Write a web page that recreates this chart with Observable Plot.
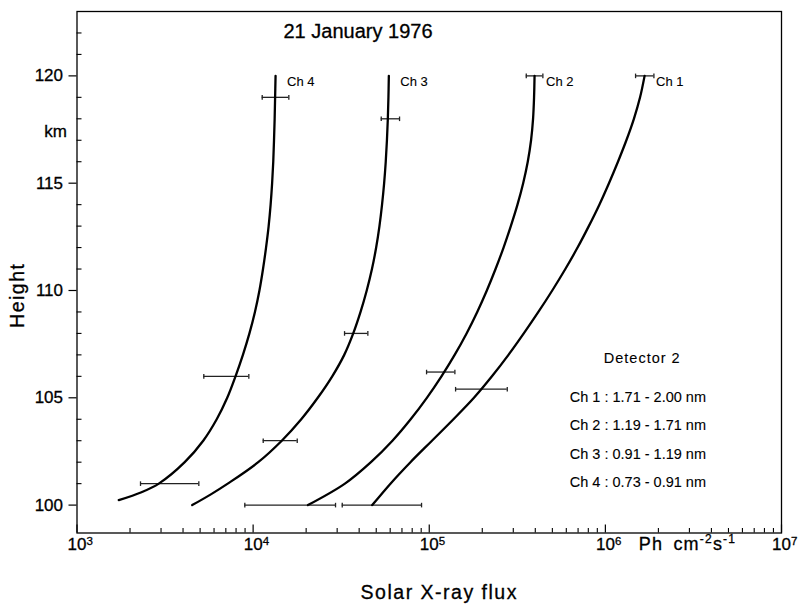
<!DOCTYPE html>
<html>
<head>
<meta charset="utf-8">
<script src="https://cdn.jsdelivr.net/npm/d3@7"></script>
<script src="https://cdn.jsdelivr.net/npm/@observablehq/plot@0.6"></script>
<style>
  html, body { margin: 0; padding: 0; background: #fff; }
  svg text { stroke: #000; stroke-width: 0.3px; }
  svg text.light { stroke-width: 0.1px; }
</style>
</head>
<body>
<div id="chart"></div>
<script>
// ---- Data ----
const title = "21 January 1976";
const channels = ["Ch 1", "Ch 2", "Ch 3", "Ch 4"];

// Height (km) and solar X-ray flux (Ph cm^-2 s^-1) along each curve
const ch1Height = [120,119,118,117,116,115,114,113,112,111,110,109,108,107,106,105,104,103,102,101,100];
const ch1Flux   = [1670000,1574000,1452000,1316000,1179000,1048000,924300,805100,695200,592600,499300,416500,344100,281700,227000,179400,137200,103600,78210,60220,47460];

const ch2Height = [120,119,118,117,116,115,114,113,112,111,110,109,108,107,106,105,104,103,102,101,100];
const ch2Flux   = [396200,393600,388500,378500,362500,341400,316900,290500,264200,237900,212300,187300,162900,139400,117300,96920,78420,61800,46660,33210,20480];

const ch3Height = [120,119,118,117,116,115,114,113,112,111,110,109,108,107,106,105,104,103,102,101,100.5,100];
const ch3Flux   = [58960,58650,58190,57510,56620,55450,53950,52150,49950,47280,44160,40730,37020,32910,28130,23280,18760,14540,10690,7175,5753,4510];

const ch4Height = [120,119,118,117,116,115,114,113,112,111,110,109,108,107,106,105,104,103,102,101,100.6,100.23];
const ch4Flux   = [13410,13330,13250,13140,13010,12820,12570,12250,11840,11380,10860,10240,9528,8751,7944,7128,6213,5208,4089,2914,2324,1727];

// Horizontal error bars: height, low flux, high flux
const errHeight = [119, 106, 101, 118, 108, 103, 120, 106.2, 100, 120, 105.4, 100];
const errLow    = [11260, 5248, 2294, 53380, 33040, 11410, 355500, 96540, 8971, 1484000, 141100, 32060];
const errHigh   = [15950, 9454, 4917, 67820, 44810, 17800, 441700, 139800, 29370, 1886000, 277300, 90420];

// Axes
const xDecades = [1e3, 1e4, 1e5, 1e6, 1e7];
const xTickBase = "10";
const xTickExponents = ["3", "4", "5", "6", "7"];
const yMajorTicks = [100, 105, 110, 115, 120];
const yMinorTicks = d3.range(100, 123).filter(v => v % 5 !== 0);
const xMinorTicks = [1e3, 1e4, 1e5, 1e6].flatMap(d => d3.range(2, 10).map(k => k * d));

const legendTitle = "Detector 2";
const legendLines = [
  "Ch 1 : 1.71 - 2.00 nm",
  "Ch 2 : 1.19 - 1.71 nm",
  "Ch 3 : 0.91 - 1.19 nm",
  "Ch 4 : 0.73 - 0.91 nm"
];
const xLabel = "Solar X-ray flux";
const unitLabel = "Ph cm^{-2}s^{-1}";
const yLabel = "Height";
const yUnit = "km";

// ---- Build tables ----
const series = [
  {ch: channels[0], heights: ch1Height, flux: ch1Flux},
  {ch: channels[1], heights: ch2Height, flux: ch2Flux},
  {ch: channels[2], heights: ch3Height, flux: ch3Flux},
  {ch: channels[3], heights: ch4Height, flux: ch4Flux}
];
const rows = series.flatMap(s => s.heights.map((h, i) => ({ch: s.ch, h, f: s.flux[i]})));
const errs = errHeight.map((h, i) => ({h, lo: errLow[i], hi: errHigh[i]}));

const capSymbol = {
  draw(context, size) {
    const r = Math.sqrt(size / Math.PI);
    context.moveTo(0, -r);
    context.lineTo(0, r);
  }
};

const plot = Plot.plot({
  width: 799,
  height: 604,
  marginTop: 11,
  marginBottom: 71.5,
  marginLeft: 76.5,
  marginRight: 18,
  style: {fontFamily: "'Liberation Sans', Arial, sans-serif", fontSize: "16px", background: "#fff", color: "#000"},
  x: {type: "log", domain: [1e3, 1e7], label: null},
  y: {domain: [98.7, 123], label: null},
  marks: [
    Plot.frame({stroke: "#000", strokeWidth: 1.3}),
    // x ticks (inward)
    Plot.axisX(xMinorTicks, {tickSize: -4.5, tickFormat: () => "", label: null, strokeWidth: 1.1}),
    Plot.axisX(xDecades, {tickSize: -8, tickFormat: () => "", label: null, strokeWidth: 1.2}),
    // y ticks
    Plot.axisY(yMinorTicks, {tickSize: -5, tickFormat: () => "", label: null, strokeWidth: 1.1}),
    Plot.axisY(yMajorTicks, {tickSize: 8, tickPadding: 6, fontSize: 17, label: null, strokeWidth: 1.2}),
    // x tick labels 10^n
    Plot.text(xDecades, {x: d => d, text: () => xTickBase, frameAnchor: "bottom", textAnchor: "middle", lineAnchor: "bottom", dy: 16.5, fontSize: 17}),
    Plot.text(xDecades, {x: d => d, text: (d, i) => xTickExponents[i], frameAnchor: "bottom", lineAnchor: "bottom", textAnchor: "start", dx: 9.5, dy: 12, fontSize: 11.5}),
    // unit label
    Plot.text([unitLabel], {text: d => d, frameAnchor: "bottom-right", textAnchor: "start", lineAnchor: "bottom", dx: -142.7, dy: 16.5, fontSize: 18}),
    // axis titles
    Plot.text([xLabel], {text: d => d, frameAnchor: "bottom", textAnchor: "middle", lineAnchor: "bottom", dx: 10, dy: 65.5, fontSize: 19.5}),
    Plot.text([yLabel], {text: d => d, frameAnchor: "left", textAnchor: "middle", lineAnchor: "bottom", rotate: -90, dx: -53, dy: 23, fontSize: 19.5}),
    Plot.text([yUnit], {text: d => d, frameAnchor: "top-left", textAnchor: "end", lineAnchor: "bottom", dx: -10, dy: 125.7, fontSize: 17}),
    // title
    Plot.text([title], {text: d => d, frameAnchor: "top-left", textAnchor: "start", lineAnchor: "bottom", dx: 206.5, dy: 26, fontSize: 20}),
    // legend
    Plot.text([legendTitle], {text: d => d, frameAnchor: "top-left", textAnchor: "middle", lineAnchor: "bottom", dx: 565.2, dy: 351.7, fontSize: 14.5}),
    Plot.text([legendLines.join("\n")], {text: d => d, frameAnchor: "top-left", textAnchor: "start", lineAnchor: "top", lineHeight: 1.952, dx: 492.8, dy: 370.3, fontSize: 14.5}),
    // error bars
    Plot.ruleY(errs, {y: "h", x1: "lo", x2: "hi", stroke: "#222", strokeWidth: 1.3}),
    Plot.dot(errs, {x: "lo", y: "h", symbol: capSymbol, r: 2.3, fill: "none", stroke: "#222", strokeWidth: 1.3}),
    Plot.dot(errs, {x: "hi", y: "h", symbol: capSymbol, r: 2.3, fill: "none", stroke: "#222", strokeWidth: 1.3}),
    // curves
    Plot.line(rows, {x: "f", y: "h", z: "ch", curve: "catmull-rom", stroke: "#000", strokeWidth: 2.3}),
    // channel labels
    Plot.text(series, {x: s => s.flux[0], y: s => s.heights[0], text: "ch", textAnchor: "start", dx: 11.5, dy: 6, fontSize: 13})
  ]
});

// superscripts for text written as a^{b}
function supify() {
  const t = this.textContent;
  if (!t.includes("^{")) return;
  const parts = t.split(/\^\{([^}]*)\}/);
  const el = d3.select(this);
  el.text(null);
  let shift = 0;
  parts.forEach((p, i) => {
    if (p === "") return;
    const ts = el.append("tspan").text(p);
    if (i % 2 === 1) {
      ts.attr("font-size", "12px").attr("dy", -6.5 - shift);
      shift = -6.5;
    } else if (shift !== 0) {
      ts.attr("dy", -shift);
      shift = 0;
    }
  });
}
const svg = d3.select(plot);
svg.selectAll("text").each(supify);
svg.selectAll("text").filter(function() { return this.textContent === xLabel || this.textContent === yLabel; })
  .attr("letter-spacing", "1.5px");
svg.selectAll("text").filter(function() { return this.textContent === legendTitle; })
  .attr("letter-spacing", "1px");
svg.selectAll("text").filter(function() { return this.textContent.startsWith("Ph"); })
  .attr("letter-spacing", "1.2px").attr("word-spacing", "4px");
// lighter strokes for the small legend and channel labels
svg.selectAll("text").filter(function() {
  const t = this.textContent;
  return t === legendTitle || t.startsWith("Ch ");
}).classed("light", true);

document.getElementById("chart").appendChild(plot);
</script>
</body>
</html>
